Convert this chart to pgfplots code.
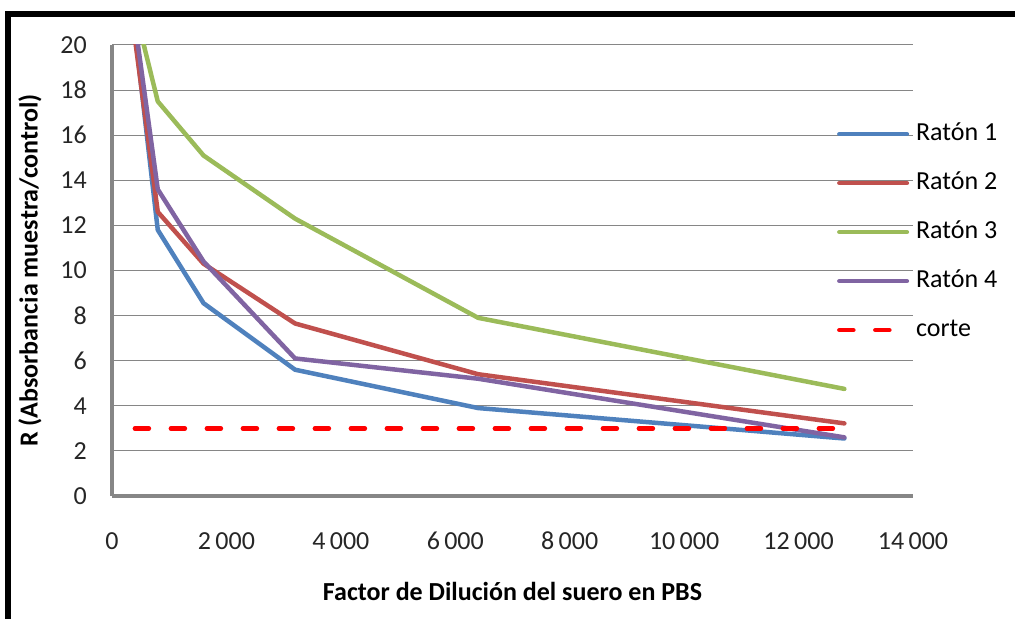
\documentclass[border=0pt]{standalone}
\usepackage{pgfplots}
\pgfplotsset{compat=1.18}
\usepackage{fontspec}
\setmainfont{Carlito}

\definecolor{ratonA}{HTML}{4F81BD}
\definecolor{ratonB}{HTML}{C0504D}
\definecolor{ratonC}{HTML}{9BBB59}
\definecolor{ratonD}{HTML}{8064A2}
\definecolor{ejegris}{HTML}{868686}

\newcommand{\chartfont}{\fontsize{26}{30}\selectfont}

\begin{document}
\begin{tikzpicture}[x=1pt,y=1pt]
\useasboundingbox (0,0) rectangle (1015,619);
% outer frame (top and left edges)
\fill[black] (5,602) rectangle (1015,608);
\fill[black] (5,0) rectangle (11,608);
\begin{axis}[
  at={(112pt,123pt)}, anchor=south west,
  scale only axis, width=801pt, height=451pt,
  xmin=0, xmax=14000, ymin=0, ymax=20,
  enlargelimits=false,
  xtick={0,2000,...,14000}, ytick={0,2,...,20},
  scaled x ticks=false,
  axis x line*=bottom, axis y line*=left,
  axis line style={draw=ejegris, line width=4.5pt, -},
  major tick length=0pt,
  ymajorgrids, grid style={draw=ejegris, line width=1pt},
  /pgf/number format/.cd, 1000 sep={\,}, assume math mode=true,
  /pgfplots/.cd,
  tick label style={font=\chartfont, text=black!85, inner sep=0pt},
  yticklabel style={anchor=east, xshift=-25pt},
  xticklabel style={anchor=north, yshift=-36pt},
  xlabel={Factor de Dilución del suero en PBS},
  ylabel={R (Absorbancia muestra/control)},
  xlabel style={font=\chartfont\bfseries, at={(axis description cs:0.5,-0.2306)}, anchor=base},
  ylabel style={font=\chartfont\bfseries, at={(axis description cs:-0.1024,0.5)}, anchor=center},
  legend style={draw=none, fill=none, at={(axis description cs:0.905,0.827)}, anchor=north west,
    inner sep=0pt, row sep=27pt, column sep=7pt, font=\chartfont,
    nodes={inner sep=0pt, text height=17pt, text depth=5pt}},
  legend cell align=left,
  legend image code/.code={\draw[#1] (2.25pt,0pt) -- (69.75pt,0pt);},
  every axis plot/.append style={line width=4.5pt, line join=round, line cap=round},
]
\addplot[ratonA] coordinates {(400,20.6) (800,11.8) (1600,8.55) (3200,5.6) (6400,3.9) (12800,2.55)};
\addlegendentry{Ratón 1}
\addplot[ratonB] coordinates {(400,20.3) (800,12.6) (1600,10.3) (3200,7.65) (6400,5.4) (12800,3.22)};
\addlegendentry{Ratón 2}
\addplot[ratonC] coordinates {(400,21.6) (800,17.5) (1600,15.1) (3200,12.3) (6400,7.9) (12800,4.75)};
\addlegendentry{Ratón 3}
\addplot[ratonD] coordinates {(400,21.0) (800,13.6) (1600,10.4) (3200,6.1) (6400,5.2) (12800,2.6)};
\addlegendentry{Ratón 4}
\addplot[red, dash pattern=on 14pt off 22pt] coordinates {(400,3) (12800,3)};
\addlegendentry{corte}
\end{axis}
\end{tikzpicture}
\end{document}
